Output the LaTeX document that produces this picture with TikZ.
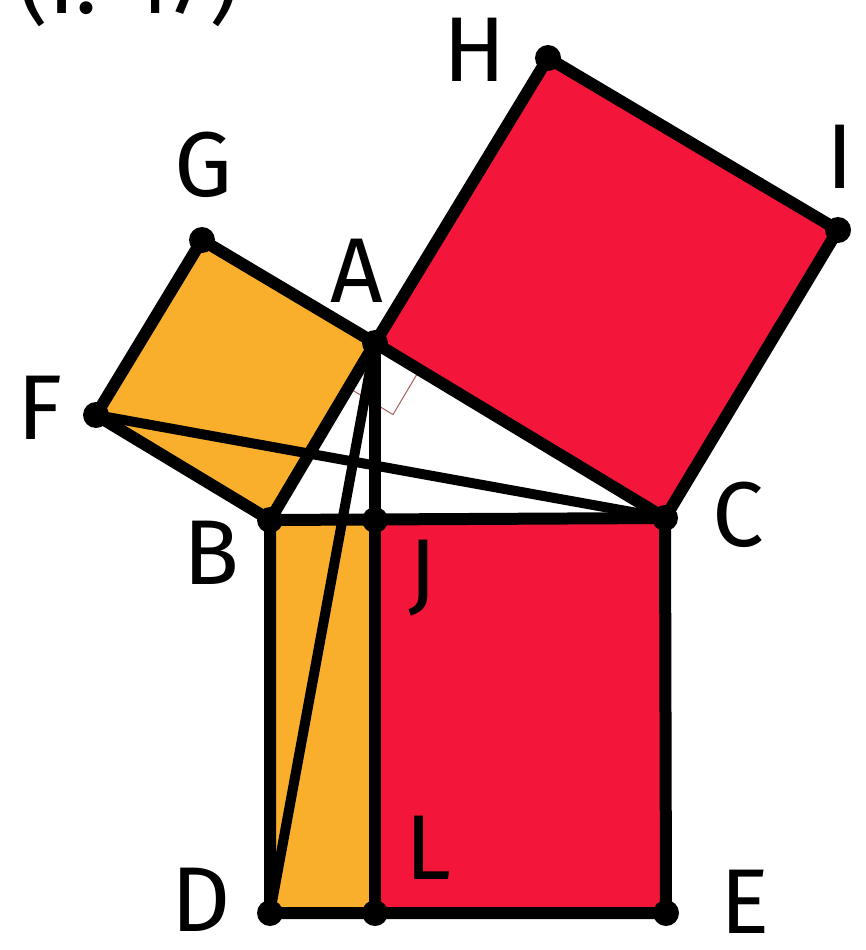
\documentclass[tikz,border=0pt]{standalone}
\usepackage{fontspec}
\setmainfont{Fira Sans}
\usetikzlibrary{calc}
\definecolor{sqorange}{HTML}{F9AF2C}
\definecolor{sqred}{HTML}{F3163A}
\definecolor{markc}{HTML}{A8605A}
\begin{document}
\begin{tikzpicture}[x=1pt,y=-1pt,
  edge/.style={line width=12pt,line join=round,line cap=round,black},
  pt/.style={circle,fill=black,inner sep=0pt,minimum size=26pt},
  lab/.style={font=\fontsize{92}{96}\selectfont,inner sep=0pt}]
\useasboundingbox (0,0) rectangle (866,950);
\clip (0,0) rectangle (866,950);
\fill[white] (0,0) rectangle (866,950);
% points
\coordinate (A) at (375,343);
\coordinate (B) at (270,520);
\coordinate (C) at (665,518);
\coordinate (D) at (270,913);
\coordinate (E) at (666,913);
\coordinate (J) at (375,520);
\coordinate (L) at (375,913);
\coordinate (F) at (96,415);
\coordinate (G) at (202,240);
\coordinate (H) at (548,58);
\coordinate (I) at (838,230);
% fills
\fill[sqorange] (A) -- (G) -- (F) -- (B) -- cycle;
\fill[sqred] (A) -- (H) -- (I) -- (C) -- cycle;
\fill[sqorange] (B) -- (J) -- (L) -- (D) -- cycle;
\fill[sqred] (J) -- (C) -- (E) -- (L) -- cycle;
% right angle mark
\coordinate (m1) at ($(A)!52pt!(B)$);
\coordinate (m2) at ($(A)!52pt!(C)$);
\coordinate (m3) at ($(m1)+(m2)-(A)$);
\draw[markc,line width=1pt] (m1) -- (m3) -- (m2);
% edges
\draw[edge] (A) -- (G) -- (F) -- (B) -- cycle;
\draw[edge] (A) -- (H) -- (I) -- (C) -- cycle;
\draw[edge] (B) -- (C) -- (E) -- (D) -- cycle;
\draw[edge] (A) -- (L);
\draw[edge,line width=10pt] (F) -- (C);
\draw[edge,line width=10pt] (A) -- (D);
% dots
\foreach \p in {A,B,C,D,E,F,G,H,I,J,L} \node[pt] at (\p) {};
% labels
\node[lab] (tA) at (357,271) {A};
\node[lab] (tB) at (211,553) {B};
\node[lab] (tC) at (738,515) {C};
\node[lab] (tD) at (201,900) {D};
\node[lab] (tE) at (745,902) {E};
\node[lab] (tF) at (40,408) {F};
\node[lab] (tG) at (204,165) {G};
\node[lab] (tH) at (475,50) {H};
\node[lab] (tI) at (840,157) {I};
\node[lab] (tJ) at (423,578) {J};
\node[lab] (tL) at (428,848) {L};
\node[lab,anchor=base west] (title) at (18,14) {(I.\ 47)};
\end{tikzpicture}
\end{document}
